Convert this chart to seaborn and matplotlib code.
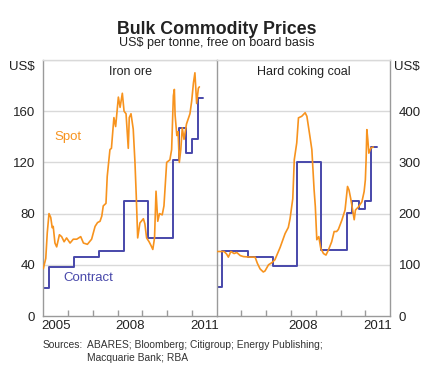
import matplotlib
matplotlib.use("Agg")
import matplotlib.pyplot as plt
import seaborn as sns
import pandas as pd

# Iron ore, US$ per tonne
ore_spot_t = [2005.0, 2005.1, 2005.16, 2005.23, 2005.3, 2005.36, 2005.4, 2005.47, 2005.54, 2005.65,
              2005.74, 2005.84, 2005.94, 2006.08, 2006.21, 2006.35, 2006.51, 2006.62, 2006.78, 2006.95,
              2007.09, 2007.19, 2007.29, 2007.36, 2007.42, 2007.53, 2007.58, 2007.69, 2007.75, 2007.85,
              2007.92, 2008.03, 2008.1, 2008.19, 2008.26, 2008.34, 2008.43, 2008.47, 2008.54, 2008.63,
              2008.7, 2008.75, 2008.81, 2008.9, 2009.04, 2009.1, 2009.17, 2009.27, 2009.35, 2009.42,
              2009.49, 2009.55, 2009.62, 2009.69, 2009.8, 2009.87, 2009.98, 2010.11, 2010.18, 2010.25,
              2010.29, 2010.32, 2010.39, 2010.44, 2010.49, 2010.55, 2010.61, 2010.68, 2010.78, 2010.92,
              2010.99, 2011.06, 2011.12, 2011.19, 2011.26, 2011.3]
ore_spot = [37, 45, 65, 80, 77, 69, 70, 57, 54, 63.5,
            62, 58, 61, 57, 60, 60, 62, 57, 56, 60,
            70, 73, 74, 78, 86, 88, 109, 130, 131, 155,
            148, 171, 163, 174, 160, 158, 131, 155, 158, 146,
            120, 95, 61, 72.7, 76, 72, 61, 58, 55, 52,
            61, 97.5, 74, 80, 79, 86, 120, 122, 130, 172,
            177, 157, 141, 144, 120, 130, 147, 138, 150, 158,
            168, 182, 190, 166, 178, 179]
ore_contract_t = [2005.0, 2005.24, 2006.24, 2007.26, 2008.26, 2009.24, 2010.23, 2010.49, 2010.75,
                  2011.0, 2011.24, 2011.46]
ore_contract = [22, 38, 46, 51, 90, 61, 122, 147, 127, 138, 170, 170]

# Hard coking coal, US$ per tonne
coal_spot_t = [2005.04, 2005.3, 2005.4, 2005.47, 2005.57, 2005.7, 2005.81, 2005.95, 2006.08, 2006.35,
               2006.55, 2006.64, 2006.75, 2006.88, 2006.95, 2007.09, 2007.22, 2007.35, 2007.56, 2007.76,
               2007.89, 2007.96, 2008.07, 2008.1, 2008.13, 2008.23, 2008.3, 2008.43, 2008.57, 2008.64,
               2008.74, 2008.84, 2008.93, 2008.98, 2009.04, 2009.12, 2009.2, 2009.31, 2009.41, 2009.51,
               2009.64, 2009.74, 2009.84, 2009.91, 2010.05, 2010.18, 2010.28, 2010.34, 2010.41, 2010.48,
               2010.55, 2010.6, 2010.72, 2010.86, 2010.95, 2011.0, 2011.03, 2011.06, 2011.1, 2011.14,
               2011.22, 2011.32]
coal_spot = [126, 126, 121, 115, 126, 122, 124, 118, 116, 115,
             115, 103, 92, 86, 88, 100, 104, 110, 134, 161,
             173, 190, 229, 266, 305, 338, 387, 390, 397, 390,
             358, 325, 247, 214, 149, 155, 132, 122, 119, 129,
             145, 165, 165, 169, 187, 207, 253, 246, 229, 209,
             188, 207, 213, 223, 243, 266, 305, 364, 344, 318,
             328, 330]
coal_contract_t = [2005.0, 2005.23, 2006.25, 2007.26, 2008.26, 2009.21, 2010.25, 2010.48, 2010.75,
                   2011.0, 2011.23, 2011.46]
coal_contract = [57, 126, 116, 98, 300, 129, 201, 225, 209, 225, 330, 330]

year_ticks = [2006, 2007, 2008, 2009, 2010, 2011]
ore_year_labels = ["2005", "2008", "2011"]
coal_year_labels = ["2008", "2011"]
ore_yticks = [0, 40, 80, 120, 160]
coal_yticks = [0, 100, 200, 300, 400]

ORANGE = "#F7931E"
BLUE = "#4848AA"
FRAME = "#9a9a9a"
GRID = "#d9d9d9"
TEXT = "#222222"

sns.set_theme(style="white")
plt.rcParams["font.family"] = ["Liberation Sans", "DejaVu Sans"]

fig = plt.figure(figsize=(4.33, 3.85), dpi=100)
ax1 = fig.add_axes([0.100, 0.1792, 0.4005, 0.665])
ax2 = fig.add_axes([0.5005, 0.1792, 0.4005, 0.665])


def draw_panel(ax, spot_t, spot, con_t, con, ymax, yticks, labels, title):
    ax.set_xlim(2005, 2012)
    ax.set_ylim(0, ymax)
    for v in yticks[1:] + [ymax]:
        ax.axhline(v, color=GRID, lw=1.0, zorder=0)
    sp = pd.DataFrame({"t": spot_t, "v": spot})
    ct = pd.DataFrame({"t": con_t, "v": con})
    sns.lineplot(data=ct, x="t", y="v", ax=ax, color=BLUE, lw=1.4,
                 drawstyle="steps-post", estimator=None, sort=False, zorder=2)
    sns.lineplot(data=sp, x="t", y="v", ax=ax, color=ORANGE, lw=1.2,
                 estimator=None, sort=False, zorder=3)
    ax.set_xlabel("")
    ax.set_ylabel("")
    ax.set_xticks(year_ticks)
    ax.set_xticklabels([])
    ax.set_xticks([int(y) + 0.5 for y in labels], minor=True)
    ax.set_xticklabels(labels, minor=True)
    ax.tick_params(axis="x", which="major", direction="in", length=4, width=1,
                   color=FRAME, bottom=True)
    ax.tick_params(axis="x", which="minor", length=0, labelsize=9.5,
                   labelcolor=TEXT, pad=3)
    ax.set_yticks(yticks)
    for s in ax.spines.values():
        s.set_color(FRAME)
        s.set_linewidth(1.0)
    ax.spines["top"].set_color(GRID)
    ax.text(0.5, 0.955, title, transform=ax.transAxes, ha="center", va="center",
            fontsize=9, color=TEXT)


draw_panel(ax1, ore_spot_t, ore_spot, ore_contract_t, ore_contract, 200, ore_yticks,
           ore_year_labels, "Iron ore")
draw_panel(ax2, coal_spot_t, coal_spot, coal_contract_t, coal_contract, 500, coal_yticks,
           coal_year_labels, "Hard coking coal")

ax1.tick_params(axis="y", length=0, labelsize=9.5, labelcolor=TEXT, pad=6)
ax1.spines["right"].set_visible(False)
ax2.yaxis.tick_right()
ax2.tick_params(axis="y", length=0, labelsize=9.5, labelcolor=TEXT, pad=6,
                left=False, right=False, labelleft=False, labelright=True)

ax1.text(2006.0, 140, "Spot", color=ORANGE, fontsize=9.5, ha="center", va="center")
ax1.text(2006.8, 30, "Contract", color=BLUE, fontsize=9.5, ha="center", va="center")

fig.text(22 / 433, 1 - 67 / 385, "US$", ha="center", va="center", fontsize=9.5, color=TEXT)
fig.text(407 / 433, 1 - 67 / 385, "US$", ha="center", va="center", fontsize=9.5, color=TEXT)

fig.text(217 / 433, 1 - 29 / 385, "Bulk Commodity Prices", ha="center", va="center",
         fontsize=12.8, fontweight="bold", color=TEXT)
fig.text(217 / 433, 1 - 43 / 385, "US$ per tonne, free on board basis", ha="center",
         va="center", fontsize=9, color=TEXT)

fig.text(43 / 433, 1 - 345 / 385, "Sources:", ha="left", va="center", fontsize=7.4, color="#333333")
fig.text(87 / 433, 1 - 345 / 385, "ABARES; Bloomberg; Citigroup; Energy Publishing;",
         ha="left", va="center", fontsize=7.4, color="#333333")
fig.text(87 / 433, 1 - 358 / 385, "Macquarie Bank; RBA", ha="left", va="center",
         fontsize=7.4, color="#333333")

fig.savefig("out.png", dpi=100)
